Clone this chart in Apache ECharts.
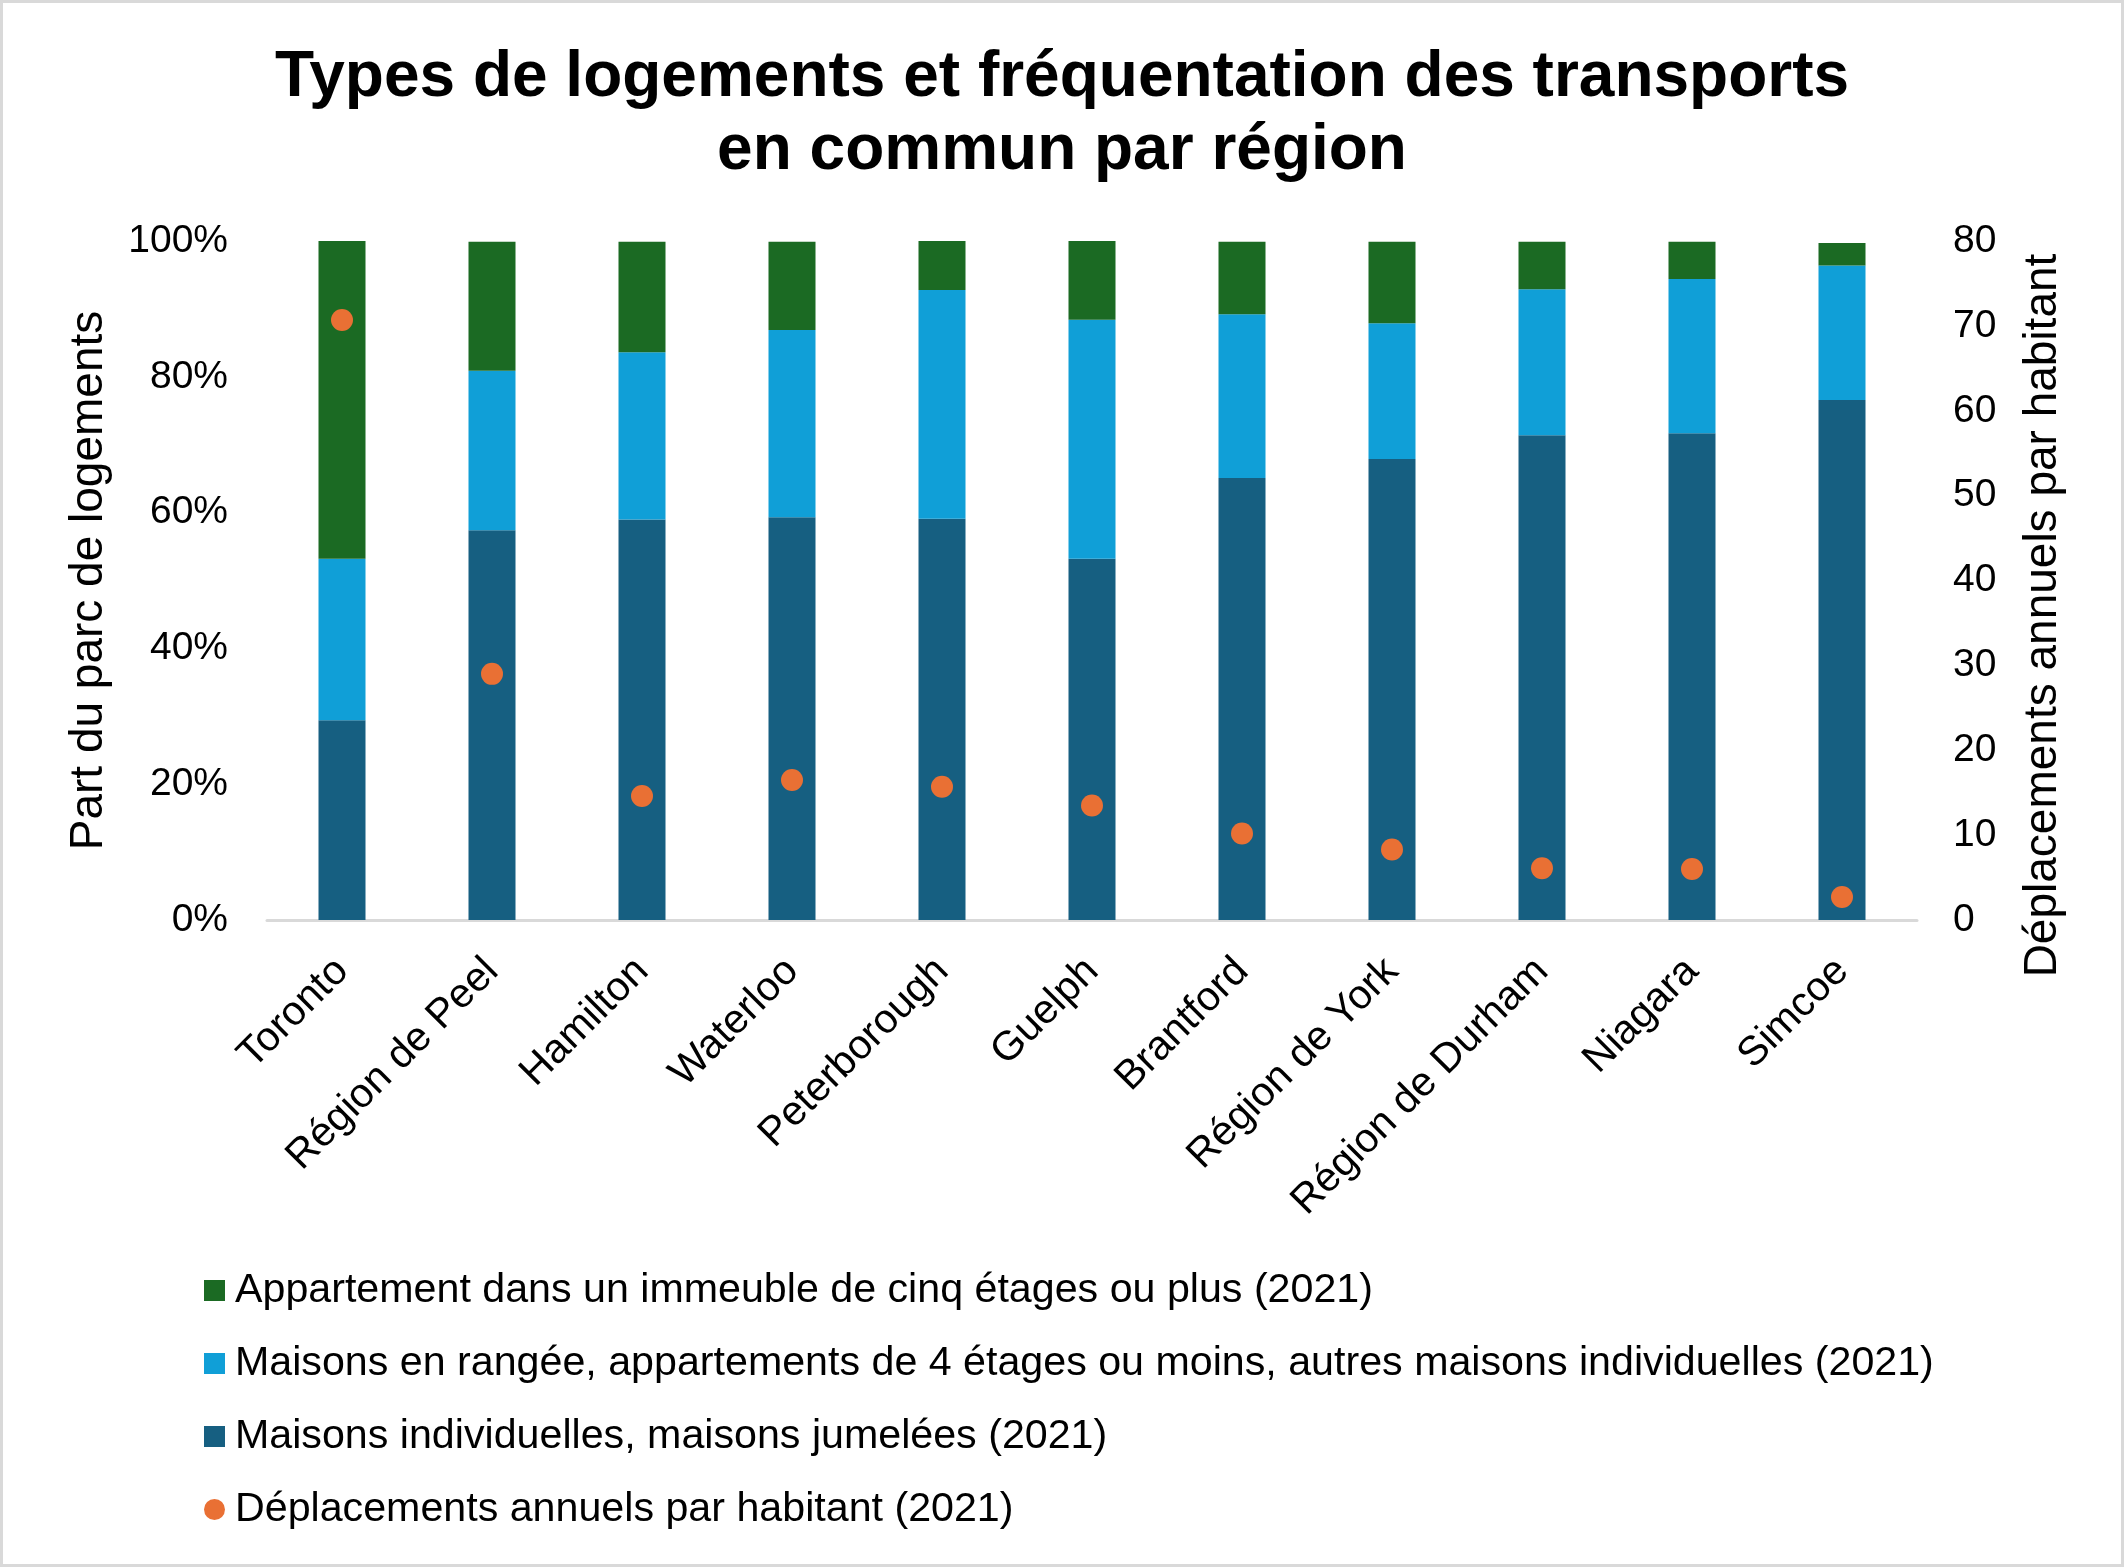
<!DOCTYPE html>
<html>
<head>
<meta charset="utf-8">
<script src="https://cdn.jsdelivr.net/npm/echarts@6/dist/echarts.min.js"></script>
<style>
html,body{margin:0;padding:0;background:#fff;}
#chart{width:2124px;height:1567px;}
</style>
</head>
<body>
<div id="chart"></div>
<script>
// Data
const categories = ["Toronto", "Région de Peel", "Hamilton", "Waterloo", "Peterborough", "Guelph", "Brantford", "Région de York", "Région de Durham", "Niagara", "Simcoe"];
const maisonsIndividuelles = [29.4, 57.4, 59.0, 59.3, 59.1, 53.2, 65.1, 67.9, 71.4, 71.7, 76.6];
const maisonsRangee = [23.8, 23.5, 24.6, 27.6, 33.7, 35.2, 24.1, 20.0, 21.5, 22.7, 19.8];
const appartementsHauts = [46.8, 19.0, 16.3, 13.0, 7.2, 11.6, 10.7, 12.0, 7.0, 5.5, 3.3];
const deplacements = [70.7, 29.0, 14.6, 16.5, 15.7, 13.5, 10.2, 8.3, 6.1, 6.0, 2.7];
const leftTicks = [0, 20, 40, 60, 80, 100];
const rightTicks = [0, 10, 20, 30, 40, 50, 60, 70, 80];

const names = {
  apt: "Appartement dans un immeuble de cinq étages ou plus (2021)",
  rangee: "Maisons en rangée, appartements de 4 étages ou moins, autres maisons individuelles (2021)",
  indiv: "Maisons individuelles, maisons jumelées (2021)",
  dep: "Déplacements annuels par habitant (2021)"
};
const FONT = "'Liberation Sans', Arial, sans-serif";

const chart = echarts.init(document.getElementById('chart'), null, {renderer: 'canvas'});
chart.setOption({
  backgroundColor: '#ffffff',
  textStyle: {fontFamily: FONT, color: '#000'},
  animation: false,
  title: {
    text: "Types de logements et fréquentation des transports\nen commun par région",
    left: 1057,
    top: 37,
    textAlign: 'center',
    textStyle: {fontFamily: FONT, fontSize: 64, fontWeight: 'bold', color: '#000', lineHeight: 73}
  },
  graphic: [{
    type: 'rect', silent: true,
    shape: {x: 1.5, y: 1.5, width: 2121, height: 1564},
    style: {fill: 'none', stroke: '#d9d9d9', lineWidth: 3}
  }],
  grid: {left: 267, right: 207, top: 241, bottom: 647, containLabel: false},
  legend: {
    orient: 'vertical',
    left: 204,
    top: 1270,
    padding: 0,
    itemWidth: 21,
    itemHeight: 21,
    itemGap: 32,
    textStyle: {fontFamily: FONT, fontSize: 41.2, color: '#000', padding: [0, 0, 0, 5]},
    data: [
      {name: names.apt, icon: 'rect'},
      {name: names.rangee, icon: 'rect'},
      {name: names.indiv, icon: 'rect'},
      {name: names.dep, icon: 'circle'}
    ]
  },
  xAxis: {
    type: 'category',
    data: categories,
    axisLine: {show: true, lineStyle: {color: '#d9d9d9', width: 3}},
    axisTick: {show: false},
    axisLabel: {rotate: 45, fontSize: 41, color: '#000', fontFamily: FONT, margin: 45, interval: 0}
  },
  yAxis: [{
    type: 'value', min: 0, max: 100, interval: 20,
    name: 'Part du parc de logements',
    nameLocation: 'middle', nameGap: 155,
    nameTextStyle: {fontSize: 46, color: '#000', fontFamily: FONT},
    axisLine: {show: false}, axisTick: {show: false}, splitLine: {show: false},
    axisLabel: {fontSize: 39, color: '#000', fontFamily: FONT, margin: 39,
      formatter: v => leftTicks.includes(v) ? v + '%' : ''}
  }, {
    type: 'value', min: 0, max: 80, interval: 10, position: 'right',
    name: 'Déplacements annuels par habitant',
    nameLocation: 'middle', nameGap: 103,
    nameTextStyle: {fontSize: 46, color: '#000', fontFamily: FONT, padding: [0, 70, 0, 0]},
    axisLine: {show: false}, axisTick: {show: false}, splitLine: {show: false},
    axisLabel: {fontSize: 39, color: '#000', fontFamily: FONT, margin: 36,
      formatter: v => rightTicks.includes(v) ? String(v) : ''}
  }],
  series: [
    {name: names.indiv, type: 'bar', stack: 'logements', barWidth: 47, data: maisonsIndividuelles,
      itemStyle: {color: '#165f81'}},
    {name: names.rangee, type: 'bar', stack: 'logements', barWidth: 47, data: maisonsRangee,
      itemStyle: {color: '#109fd7'}},
    {name: names.apt, type: 'bar', stack: 'logements', barWidth: 47, data: appartementsHauts,
      itemStyle: {color: '#1b6a23'}},
    {name: names.dep, type: 'scatter', yAxisIndex: 1, symbol: 'circle', symbolSize: 22, data: deplacements,
      itemStyle: {color: '#e97034', opacity: 1}, z: 5}
  ]
});
</script>
</body>
</html>
